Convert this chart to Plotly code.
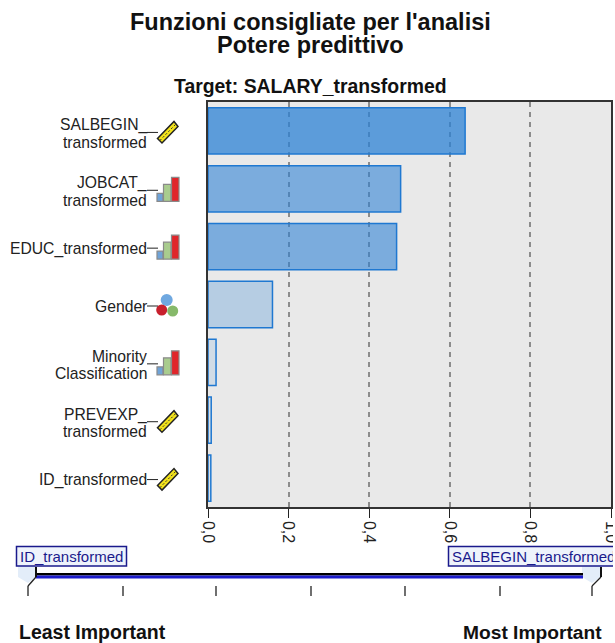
import plotly.graph_objects as go

FEATURES = ["SALBEGIN_<br>transformed", "JOBCAT_<br>transformed", "EDUC_transformed", "Gender",
            "Minority<br>Classification", "PREVEXP_<br>transformed", "ID_transformed"]
IMPORTANCE = [0.638, 0.478, 0.468, 0.16, 0.02, 0.008, 0.007]
MEASURE = ["scale", "ordinal", "ordinal", "nominal", "ordinal", "scale", "scale"]
BAR_ALPHA = [0.75, 0.585, 0.585, 0.27, 0.12, 0.08, 0.08]
X_TICKS = [0, 0.2, 0.4, 0.6, 0.8, 1.0]
SLIDER_TICKS_PX = [28, 123, 216, 311, 405, 500, 592]

W, H = 640, 643
L, R, T, B = 208, 611, 102, 507
FONT = "Liberation Sans"
def px(x): return (x - L) / (R - L)
def py(y): return (B - y) / (B - T)

shapes = []
def rect(x0, y0, x1, y1, fill, line=None, lw=1, layer="above"):
    shapes.append(dict(type="rect", xref="paper", yref="paper", x0=px(x0), x1=px(x1), y0=py(y0), y1=py(y1),
                       fillcolor=fill, line=dict(color=line or fill, width=lw if line else 0), layer=layer))
def seg(x0, y0, x1, y1, color="#222222", lw=1, dash="solid"):
    shapes.append(dict(type="line", xref="paper", yref="paper", x0=px(x0), x1=px(x1), y0=py(y0), y1=py(y1),
                       line=dict(color=color, width=lw, dash=dash)))
def path(points, fill, line="rgba(0,0,0,0)", lw=0):
    d = "M " + " L ".join(f"{px(a):.5f},{py(b):.5f}" for a, b in points) + " Z"
    shapes.append(dict(type="path", xref="paper", yref="paper", path=d, fillcolor=fill, line=dict(color=line, width=lw)))
def ball(cx, cy, r, fill):
    shapes.append(dict(type="circle", xref="paper", yref="paper", x0=px(cx-r), x1=px(cx+r), y0=py(cy-r), y1=py(cy+r),
                       fillcolor=fill, line=dict(color=fill, width=0)))

def icon(kind, cy):
    if kind == "scale":
        path([(157.5, cy+8), (162, cy+12.5), (178, cy-4), (174, cy-9)], "#f2e21b", "#222222", 1.5)
        seg(160, cy+10, 176, cy-6.5, "#333333", 1, "2px,2px")
    elif kind == "ordinal":
        rect(157, cy+5, 163, cy+13, "#6fa3d8", "#8a8a8a", 1.2)
        rect(163.5, cy-4, 171, cy+13, "#a9cc8e", "#8a8a8a", 1.2)
        rect(171.5, cy-11, 179, cy+13, "#e0262b", "#8a8a8a", 1.2)
    else:
        ball(166.7, cy-4, 6, "#6fa8e0")
        ball(161.7, cy+6, 5.5, "#c8202d")
        ball(172.7, cy+7, 5.5, "#86b96a")

annotations = []
def text(x, y, s, size, anchor="center", bold=False, color="#111111"):
    annotations.append(dict(xref="paper", yref="paper", x=px(x), y=py(y), xanchor=anchor, yanchor="middle",
                            text=f"<b>{s}</b>" if bold else s, showarrow=False, borderpad=0,
                            font=dict(family=FONT, size=size, color=color)))

for i, (name, kind) in enumerate(zip(FEATURES, MEASURE)):
    cy = T + (i + 0.5) * (B - T) / len(FEATURES) - 0.5
    icon(kind, cy)
    seg(147, cy + 2, 158, cy + 2)
    lines = name.split("<br>")
    if len(lines) == 2:
        text(147.5, cy - 5, lines[0], 15.7, "right", color="#222222")
        text(147.5, cy + 12, lines[1], 15.7, "right", color="#222222")
    else:
        text(147.5, cy + 2.5, lines[0], 15.7, "right", color="#222222")

text(310, 22, "Funzioni consigliate per l'analisi", 23.5, bold=True)
text(310, 45, "Potere predittivo", 23.5, bold=True)
text(310, 86, "Target: SALARY_transformed", 19.4, bold=True)
text(18, 632, "Least Important", 19.5, "left", True)
text(603, 632, "Most Important", 19.2, "right", True)

# importance slider
path([(18, 566), (36, 566), (36, 577), (28, 583), (18, 577)], "#e3edf9")
path([(582, 566), (601, 566), (601, 577), (592, 583), (582, 577)], "#e3edf9")
rect(36, 573, 583, 575.5, "#000000")
rect(36, 575.5, 583, 578.5, "#1c1ccc")
for x in SLIDER_TICKS_PX:
    seg(x, 586, x, 596, "#222222", 1.3)
seg(28, 586, 36, 577, "#222222", 1.3); seg(36, 577, 36, 567, "#111111", 2)
seg(592, 586, 601, 577, "#222222", 1.3); seg(601, 577, 601, 567, "#111111", 2)
rect(16.5, 546.5, 126.5, 566, "#eef3fb", "#1a1a8c", 1.5)
rect(448.5, 546.5, 625, 566, "#eef3fb", "#1a1a8c", 1.5)
text(19, 556, "ID_transformed", 15, "left", color="#1a1a8c")
text(451, 556, "SALBEGIN_transformed", 15, "left", color="#1a1a8c")

fig = go.Figure(go.Bar(
    y=list(range(len(FEATURES))), x=IMPORTANCE, orientation="h", width=0.8,
    marker=dict(color=[f"rgba(44,129,212,{a})" for a in BAR_ALPHA], line=dict(color="#1f78d1", width=1.5)),
))
fig.update_layout(
    width=W, height=H, autosize=False, showlegend=False, separators=",.",
    margin=dict(l=L, r=W - R, t=T, b=H - B, pad=0),
    paper_bgcolor="#ffffff", plot_bgcolor="#e9e9e9",
    shapes=shapes, annotations=annotations,
    font=dict(family=FONT, size=14, color="#222222"),
)
fig.update_xaxes(range=[0, 1], tickvals=X_TICKS, tickformat=".1f", tickangle=90, ticks="outside", ticklen=9,
                 tickcolor="#222222", showgrid=True, gridcolor="#8c8c8c", griddash="5px,5px", gridwidth=1.5,
                 showline=True, linecolor="#333333", linewidth=1.5, mirror=True, zeroline=False,
                 ticklabeloverflow="allow", tickfont=dict(size=16, color="#222222"))
fig.update_yaxes(range=[len(FEATURES) - 0.5, -0.5], showticklabels=False, ticks="", showgrid=False,
                 showline=True, linecolor="#333333", linewidth=1.5, mirror=True, zeroline=False)
fig.write_html("out.html", config=dict(displayModeBar=False),
               post_script="document.body.style.margin='0';document.documentElement.style.overflow='hidden';"
                           "var g=document.querySelector('.plotly-graph-div');g.style.width='613px';g.style.overflow='hidden';")
